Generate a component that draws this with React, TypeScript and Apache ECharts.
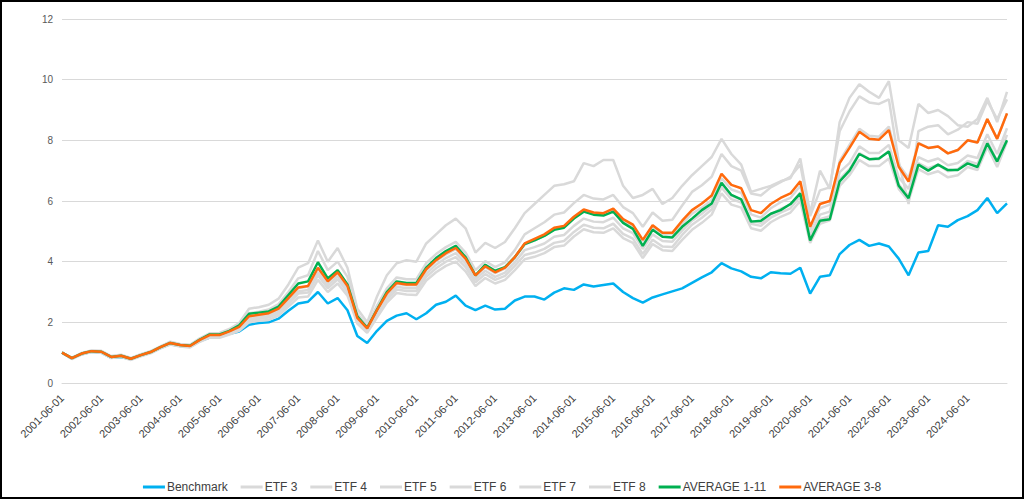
import React, { useEffect, useRef } from "react";
import * as echarts from "echarts";

// Quarterly observation dates (category axis), 2001-06 .. 2025-06
const dates: string[] = [];
for (let y = 2001, m = 6; y < 2025 || (y === 2025 && m <= 6); ) {
  dates.push(`${y}-${String(m).padStart(2, "0")}-01`);
  m += 3;
  if (m > 12) { m -= 12; y += 1; }
}

const benchmark = [
  1.00, 0.80, 0.95, 1.03, 1.00, 0.83, 0.86, 0.78, 0.90, 1.00, 1.15, 1.28, 1.22, 1.20, 1.38, 1.50,
  1.52, 1.62, 1.70, 1.92, 1.98, 2.00, 2.12, 2.38, 2.62, 2.68, 3.00, 2.62, 2.80, 2.40, 1.55, 1.32,
  1.72, 2.05, 2.22, 2.30, 2.10, 2.30, 2.58, 2.68, 2.88, 2.55, 2.40, 2.55, 2.42, 2.45, 2.72, 2.85,
  2.85, 2.75, 2.98, 3.12, 3.07, 3.25, 3.18, 3.23, 3.28, 3.00, 2.80, 2.65, 2.82, 2.92, 3.02, 3.12,
  3.30, 3.48, 3.65, 3.95, 3.78, 3.68, 3.50, 3.45, 3.65, 3.62, 3.60, 3.80, 2.95, 3.50, 3.55, 4.25,
  4.55, 4.72, 4.52, 4.60, 4.50, 4.10, 3.55, 4.30, 4.35, 5.20, 5.15, 5.37, 5.50, 5.70, 6.10, 5.60,
  5.92,
];

const etf3 = [
  1.00, 0.84, 0.99, 1.07, 1.06, 0.89, 0.93, 0.83, 0.95, 1.05, 1.21, 1.36, 1.29, 1.26, 1.47, 1.64,
  1.65, 1.78, 1.98, 2.45, 2.50, 2.58, 2.78, 3.25, 3.80, 3.95, 4.70, 4.00, 4.45, 3.80, 2.45, 2.00,
  2.85, 3.55, 3.95, 4.05, 4.00, 4.60, 4.90, 5.20, 5.42, 5.10, 4.30, 4.62, 4.45, 4.65, 5.10, 5.60,
  5.90, 6.20, 6.50, 6.55, 6.65, 7.25, 7.15, 7.35, 7.35, 6.50, 6.10, 6.20, 6.40, 5.90, 6.10, 6.50,
  6.85, 7.15, 7.45, 8.05, 7.55, 7.20, 6.30, 6.40, 6.50, 6.65, 6.75, 7.40, 5.60, 7.00, 6.40, 8.60,
  9.40, 9.85, 9.60, 9.40, 9.95, 8.00, 7.75, 9.20, 8.90, 9.00, 8.80, 8.50, 8.45, 8.70, 9.40, 8.60,
  9.60,
];

const etf4 = [
  1.00, 0.83, 0.98, 1.06, 1.04, 0.87, 0.91, 0.81, 0.93, 1.03, 1.19, 1.34, 1.27, 1.24, 1.44, 1.61,
  1.61, 1.74, 1.90, 2.30, 2.35, 2.42, 2.60, 3.00, 3.45, 3.55, 4.35, 3.72, 4.00, 3.50, 2.28, 1.88,
  2.55, 3.12, 3.48, 3.42, 3.42, 3.95, 4.25, 4.48, 4.65, 4.30, 3.72, 4.02, 3.82, 3.98, 4.38, 4.90,
  5.10, 5.30, 5.55, 5.62, 5.93, 6.20, 6.08, 6.05, 6.20, 5.80, 5.60, 5.15, 5.62, 5.35, 5.38, 5.85,
  6.30, 6.52, 6.80, 7.55, 7.15, 7.00, 6.25, 6.18, 6.45, 6.62, 6.80, 7.20, 5.50, 6.35, 6.45, 8.30,
  8.95, 9.45, 9.25, 9.20, 9.35, 7.30, 5.90, 8.30, 8.45, 8.50, 8.20, 8.35, 8.60, 8.55, 9.30, 8.70,
  9.35,
];

const etf5 = [
  1.00, 0.82, 0.97, 1.05, 1.03, 0.86, 0.90, 0.80, 0.92, 1.02, 1.18, 1.32, 1.25, 1.22, 1.42, 1.58,
  1.58, 1.70, 1.84, 2.18, 2.23, 2.28, 2.43, 2.78, 3.12, 3.18, 3.78, 3.33, 3.62, 3.18, 2.14, 1.79,
  2.38, 2.92, 3.27, 3.22, 3.22, 3.72, 4.02, 4.24, 4.41, 4.06, 3.52, 3.82, 3.62, 3.77, 4.12, 4.56,
  4.70, 4.85, 5.07, 5.13, 5.43, 5.67, 5.57, 5.55, 5.70, 5.35, 5.17, 4.68, 5.15, 4.90, 4.90, 5.25,
  5.58, 5.78, 6.03, 6.75, 6.38, 6.27, 5.56, 5.45, 5.76, 5.96, 6.10, 6.50, 5.04, 5.76, 5.88, 7.32,
  7.85, 8.38, 8.15, 8.12, 8.45, 7.20, 6.75, 7.92, 7.75, 7.80, 7.57, 7.68, 8.00, 7.93, 8.70, 8.05,
  8.89,
];

const etf6 = [
  1.00, 0.81, 0.96, 1.04, 1.02, 0.85, 0.89, 0.79, 0.91, 1.01, 1.17, 1.31, 1.24, 1.21, 1.40, 1.56,
  1.55, 1.67, 1.80, 2.12, 2.17, 2.22, 2.36, 2.70, 3.02, 3.07, 3.65, 3.22, 3.52, 3.08, 2.08, 1.75,
  2.30, 2.83, 3.17, 3.12, 3.12, 3.60, 3.90, 4.12, 4.28, 3.94, 3.42, 3.70, 3.50, 3.64, 3.98, 4.38,
  4.48, 4.60, 4.82, 4.88, 5.18, 5.42, 5.32, 5.30, 5.45, 5.10, 4.94, 4.42, 4.90, 4.68, 4.66, 5.02,
  5.35, 5.58, 5.85, 6.55, 6.18, 6.05, 5.35, 5.28, 5.55, 5.74, 5.88, 6.28, 4.85, 5.55, 5.65, 6.95,
  7.25, 7.80, 7.58, 7.58, 7.85, 6.78, 6.40, 7.45, 7.30, 7.40, 7.18, 7.25, 7.50, 7.42, 8.20, 7.55,
  8.40,
];

const etf7 = [
  1.00, 0.80, 0.95, 1.03, 1.01, 0.84, 0.88, 0.78, 0.90, 1.00, 1.16, 1.29, 1.22, 1.19, 1.38, 1.53,
  1.52, 1.63, 1.76, 2.07, 2.12, 2.16, 2.30, 2.62, 2.95, 2.98, 3.55, 3.12, 3.42, 3.00, 2.03, 1.71,
  2.24, 2.75, 3.08, 3.03, 3.03, 3.50, 3.78, 4.00, 4.15, 3.82, 3.32, 3.59, 3.40, 3.53, 3.86, 4.22,
  4.30, 4.42, 4.62, 4.68, 4.98, 5.22, 5.12, 5.10, 5.25, 4.92, 4.76, 4.25, 4.72, 4.50, 4.48, 4.88,
  5.22, 5.45, 5.72, 6.45, 6.06, 5.95, 5.25, 5.18, 5.45, 5.62, 5.76, 6.15, 4.75, 5.40, 5.50, 6.72,
  7.05, 7.58, 7.38, 7.38, 7.65, 6.55, 6.15, 7.25, 7.08, 7.20, 6.98, 7.05, 7.32, 7.22, 7.98, 7.32,
  8.18,
];

const etf8 = [
  1.00, 0.79, 0.94, 1.02, 1.00, 0.82, 0.86, 0.76, 0.88, 0.98, 1.14, 1.27, 1.20, 1.17, 1.36, 1.50,
  1.49, 1.60, 1.72, 2.00, 2.05, 2.08, 2.22, 2.52, 2.82, 2.85, 3.40, 3.00, 3.28, 2.88, 1.96, 1.65,
  2.16, 2.65, 2.97, 2.92, 2.90, 3.38, 3.65, 3.86, 4.00, 3.68, 3.20, 3.46, 3.28, 3.40, 3.72, 4.08,
  4.16, 4.28, 4.48, 4.53, 4.83, 5.07, 4.97, 4.95, 5.10, 4.78, 4.62, 4.12, 4.58, 4.38, 4.35, 4.72,
  5.05, 5.28, 5.55, 6.25, 5.88, 5.78, 5.10, 5.02, 5.30, 5.48, 5.62, 6.00, 4.62, 5.25, 5.36, 6.50,
  6.85, 7.35, 7.15, 7.15, 7.40, 6.40, 6.00, 7.05, 6.88, 6.98, 6.78, 6.85, 7.12, 7.02, 7.78, 7.12,
  7.95,
];

const average1to11 = [
  1.00, 0.82, 0.97, 1.05, 1.03, 0.86, 0.90, 0.80, 0.92, 1.02, 1.18, 1.32, 1.25, 1.23, 1.43, 1.60,
  1.60, 1.72, 1.90, 2.28, 2.32, 2.36, 2.52, 2.90, 3.28, 3.35, 3.98, 3.45, 3.72, 3.25, 2.20, 1.82,
  2.42, 3.00, 3.35, 3.30, 3.30, 3.80, 4.12, 4.35, 4.52, 4.15, 3.55, 3.90, 3.70, 3.82, 4.15, 4.58,
  4.70, 4.85, 5.05, 5.12, 5.42, 5.65, 5.55, 5.52, 5.65, 5.28, 5.08, 4.52, 5.05, 4.82, 4.80, 5.15,
  5.42, 5.70, 5.92, 6.60, 6.20, 6.05, 5.32, 5.35, 5.58, 5.70, 5.90, 6.25, 4.70, 5.35, 5.40, 6.65,
  7.00, 7.55, 7.38, 7.40, 7.63, 6.50, 6.09, 7.20, 7.00, 7.20, 7.02, 7.02, 7.24, 7.12, 7.90, 7.30,
  8.00,
];

const average3to8 = [
  1.00, 0.82, 0.97, 1.05, 1.03, 0.86, 0.90, 0.80, 0.92, 1.02, 1.18, 1.32, 1.25, 1.22, 1.42, 1.58,
  1.58, 1.70, 1.85, 2.20, 2.25, 2.30, 2.45, 2.80, 3.15, 3.20, 3.80, 3.35, 3.65, 3.20, 2.15, 1.80,
  2.40, 2.95, 3.30, 3.25, 3.25, 3.75, 4.05, 4.28, 4.45, 4.10, 3.55, 3.85, 3.65, 3.80, 4.15, 4.60,
  4.75, 4.90, 5.12, 5.18, 5.48, 5.72, 5.62, 5.60, 5.75, 5.40, 5.22, 4.72, 5.20, 4.95, 4.95, 5.35,
  5.70, 5.92, 6.18, 6.90, 6.53, 6.42, 5.70, 5.60, 5.90, 6.10, 6.25, 6.65, 5.15, 5.90, 6.00, 7.25,
  7.75, 8.28, 8.05, 8.02, 8.34, 7.13, 6.64, 7.90, 7.75, 7.80, 7.57, 7.68, 8.00, 7.93, 8.70, 8.05,
  8.89,
];

const seriesDefs = [
  { name: "Benchmark", data: benchmark, color: "#00b0f0" },
  { name: "ETF 3", data: etf3, color: "#d9d9d9" },
  { name: "ETF 4", data: etf4, color: "#d9d9d9" },
  { name: "ETF 5", data: etf5, color: "#d9d9d9" },
  { name: "ETF 6", data: etf6, color: "#d9d9d9" },
  { name: "ETF 7", data: etf7, color: "#d9d9d9" },
  { name: "ETF 8", data: etf8, color: "#d9d9d9" },
  { name: "AVERAGE 1-11", data: average1to11, color: "#00b050" },
  { name: "AVERAGE 3-8", data: average3to8, color: "#ff6a0d" },
];

const FONT = "'Liberation Sans', Arial, sans-serif";

export default function App() {
  const ref = useRef<HTMLDivElement>(null);

  useEffect(() => {
    document.body.style.margin = "0";
    if (!ref.current) return;
    const chart = echarts.init(ref.current, undefined, { renderer: "svg" });
    chart.setOption({
      animation: false,
      backgroundColor: "#ffffff",
      textStyle: { fontFamily: FONT },
      grid: { left: 62, right: 17, top: 19, bottom: 116 },
      legend: {
        data: seriesDefs.map((s) => s.name),
        left: "center",
        top: 476,
        icon: "rect",
        itemWidth: 22,
        itemHeight: 3,
        itemGap: 13,
        textStyle: {
          fontSize: 12,
          color: "#404040",
          fontFamily: FONT,
          padding: [0, 0, 0, -3],
        },
      },
      xAxis: {
        type: "category",
        data: dates,
        boundaryGap: false,
        axisLine: { show: true, lineStyle: { color: "#d9d9d9", width: 1 } },
        axisTick: { show: false },
        axisLabel: {
          interval: 3,
          rotate: 45,
          fontSize: 11,
          color: "#404040",
          fontFamily: FONT,
          margin: 13,
          showMaxLabel: false,
        },
        splitLine: { show: false },
      },
      yAxis: {
        type: "value",
        min: 0,
        max: 12,
        interval: 2,
        axisLine: { show: false },
        axisTick: { show: false },
        axisLabel: { fontSize: 10, color: "#595959", fontFamily: FONT, margin: 9 },
        splitLine: { lineStyle: { color: "#d9d9d9", width: 1 } },
      },
      series: seriesDefs.map((s) => ({
        name: s.name,
        type: "line",
        data: s.data,
        symbol: "none",
        showSymbol: false,
        lineStyle: { width: 2.5, color: s.color },
        itemStyle: { color: s.color },
        emphasis: { disabled: true },
      })),
    });
    return () => chart.dispose();
  }, []);

  return (
    <div style={{ position: "relative", width: 1024, height: 499, background: "#fff" }}>
      <div ref={ref} style={{ position: "absolute", left: 0, top: 0, width: 1024, height: 499 }} />
      <div
        style={{
          position: "absolute",
          left: 0,
          top: 0,
          width: 1024,
          height: 499,
          border: "2px solid #000",
          boxSizing: "border-box",
          pointerEvents: "none",
        }}
      />
    </div>
  );
}
